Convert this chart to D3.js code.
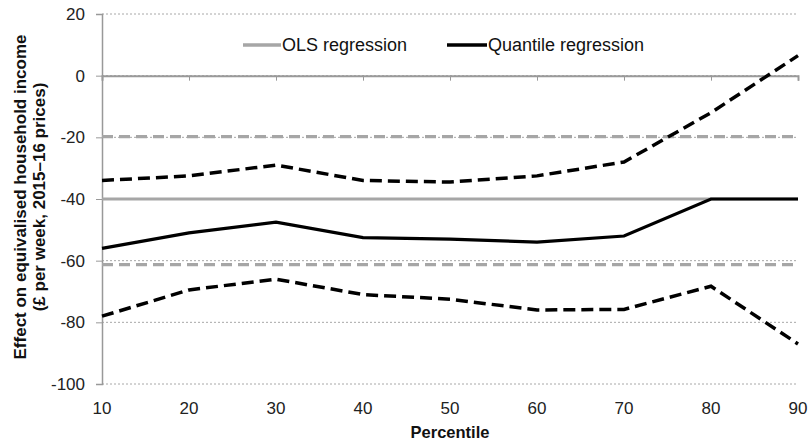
<!DOCTYPE html>
<html><head><meta charset="utf-8">
<script src="https://cdn.jsdelivr.net/npm/d3@7"></script>
<style>body{margin:0;background:#fff}svg{display:block;font-family:"Liberation Sans",Arial,sans-serif}</style>
</head><body>
<svg id="c" width="808" height="445"></svg>
<script>
const percentiles = [10,20,30,40,50,60,70,80,90];
const quantile = [-56,-51,-47.5,-52.5,-53,-54,-52,-40,-40];
const quantileUpper = [-34,-32.5,-29,-34,-34.5,-32.5,-28,-12,6.5];
const quantileLower = [-78,-69.5,-66,-71,-72.5,-76,-75.8,-68.3,-87];
const olsEstimate = -40;
const olsUpper = -19.8;
const olsLower = -61.3;
const yTicks = [20,0,-20,-40,-60,-80,-100];
const xTicks = [10,20,30,40,50,60,70,80,90];
const legendLabels = ["OLS regression","Quantile regression"];

const svg = d3.select("#c");
const x = d3.scaleLinear().domain([10,90]).range([102,798]);
const y = d3.scaleLinear().domain([-100,20]).range([384,14]);

// gridlines
svg.append("g").selectAll("line").data(yTicks).join("line")
  .attr("x1",x(10)).attr("x2",x(90)).attr("y1",d=>y(d)).attr("y2",d=>y(d))
  .attr("stroke","#a8a8a8").attr("stroke-width",1).attr("stroke-dasharray","2,2");

// y axis
const yAxis = d3.axisLeft(y).tickValues(yTicks).tickSize(6).tickFormat(d=>d);
const gy = svg.append("g").attr("transform",`translate(${x(10)},0)`).call(yAxis);
gy.select(".domain").attr("stroke","#999").attr("stroke-width",1.5);
gy.selectAll(".tick line").attr("stroke","#999");
gy.selectAll(".tick text").attr("font-size",17).attr("fill","#222").attr("x",-17).attr("font-family","Liberation Sans, Arial");

// x axis line at y=0
const xAxis = d3.axisBottom(x).tickValues(xTicks).tickSize(5).tickFormat("");
const gx = svg.append("g").attr("transform",`translate(0,${y(0)})`).call(xAxis);
gx.select(".domain").attr("stroke","#999").attr("stroke-width",2);
gx.selectAll(".tick line").attr("stroke","#999");

// x tick labels at bottom
svg.append("g").selectAll("text").data(xTicks).join("text")
  .attr("x",d=>x(d)).attr("y",y(-100)+30).attr("text-anchor","middle")
  .attr("font-size",17).attr("fill","#222").text(d=>d);

// OLS lines
const olsData = [{v:olsEstimate,dash:null},{v:olsUpper,dash:"11,6"},{v:olsLower,dash:"11,6"}];
svg.append("g").selectAll("line").data(olsData).join("line")
  .attr("x1",x(10)).attr("x2",x(90)).attr("y1",d=>y(d.v)).attr("y2",d=>y(d.v))
  .attr("stroke","#a6a6a6").attr("stroke-width",3.2)
  .attr("stroke-dasharray",d=>d.dash);

// quantile lines
const line = d3.line().x((d,i)=>x(percentiles[i])).y(d=>y(d));
svg.append("path").attr("d",line(quantileUpper)).attr("fill","none")
  .attr("stroke","#000").attr("stroke-width",3.5).attr("stroke-dasharray","12,6");
svg.append("path").attr("d",line(quantileLower)).attr("fill","none")
  .attr("stroke","#000").attr("stroke-width",3.5).attr("stroke-dasharray","12,6");
svg.append("path").attr("d",line(quantile)).attr("fill","none")
  .attr("stroke","#000").attr("stroke-width",3.2);

// legend
const lg = svg.append("g");
lg.append("line").attr("x1",243).attr("x2",281).attr("y1",45).attr("y2",45).attr("stroke","#a6a6a6").attr("stroke-width",3.5);
lg.append("text").attr("x",282).attr("y",51).attr("font-size",18).attr("fill","#111").text(legendLabels[0]);
lg.append("line").attr("x1",447).attr("x2",487).attr("y1",45).attr("y2",45).attr("stroke","#000").attr("stroke-width",3.5);
lg.append("text").attr("x",488).attr("y",51).attr("font-size",18).attr("fill","#111").text(legendLabels[1]);

// axis titles
svg.append("text").attr("x",x(50)).attr("y",438).attr("text-anchor","middle")
  .attr("font-size",16.5).attr("font-weight","bold").attr("fill","#111").text("Percentile");
const yt = svg.append("text").attr("transform","translate(0,197) rotate(-90)")
  .attr("text-anchor","middle").attr("font-size",17).attr("font-weight","bold").attr("fill","#111");
yt.append("tspan").attr("x",0).attr("y",26).text("Effect on equivalised household income");
yt.append("tspan").attr("x",0).attr("y",45).text("(£ per week, 2015–16 prices)");
</script>
</body></html>
